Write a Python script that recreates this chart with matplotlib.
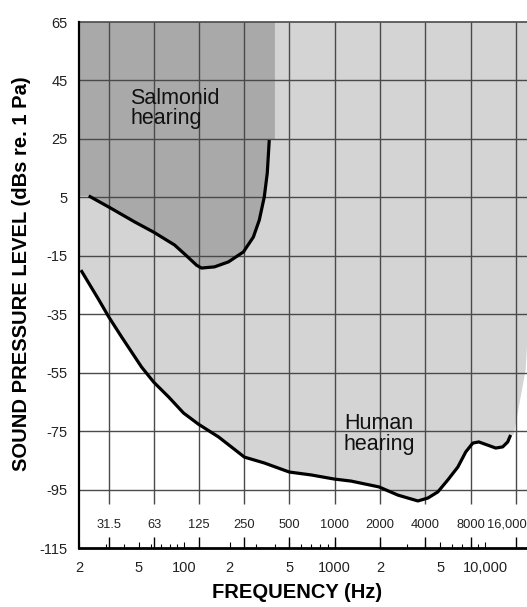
import matplotlib
matplotlib.use("Agg")
import matplotlib.pyplot as plt
from matplotlib.ticker import FixedLocator, FixedFormatter, LogLocator, NullFormatter

plt.rcParams['font.family'] = ['Liberation Sans', 'DejaVu Sans']

# ---- data ----
human_freq = [20.6, 27.1, 31.5, 38.4, 52.1, 62.6, 78.7, 98.9, 124, 169, 251, 340, 498, 697,
              990, 1282, 1966, 2626, 3202, 3564, 4152, 4834, 5632, 6562, 7414, 8249, 9038,
              10370, 11716, 13032, 14070, 14720]
human_db = [-19.9, -30.1, -35.9, -42.8, -53.1, -58.2, -63.3, -68.8, -72.6, -77.0, -83.9, -85.9,
            -89.0, -90.0, -91.4, -92.1, -94.1, -96.9, -98.2, -98.9, -97.9, -95.8, -91.7, -87.3,
            -82.1, -79.1, -78.7, -79.8, -80.8, -80.4, -78.7, -76.3]

salmon_freq = [23.2, 31.5, 46.8, 62.6, 86.2, 102, 120.6, 130, 158.7, 196.5, 247, 287.7, 315,
               340, 356, 367]
salmon_db = [5.5, 1.7, -3.4, -6.9, -11.3, -14.7, -18.2, -19.2, -18.8, -17.1, -13.7, -8.6, -2.8,
             5.1, 13.3, 24.6]

# right edge of the human-hearing shaded area
human_edge_freq = [15420, 18500]
human_edge_db = [-76.3, -54.1]
# right edge of the salmonid shaded area
salmon_edge_freq = 400

octave_freq = [31.5, 63, 125, 250, 500, 1000, 2000, 4000, 8000, 16000]
octave_labels = ["31.5", "63", "125", "250", "500", "1000", "2000", "4000", "8000", "16,000"]

xtick_vals = [20, 50, 100, 200, 500, 1000, 2000, 5000, 10000]
xtick_labels = ["2", "5", "100", "2", "5", "1000", "2", "5", "10,000"]
ytick_vals = [65, 45, 25, 5, -15, -35, -55, -75, -95, -115]

XMIN, XMAX = 20, 18900
YMIN, YMAX = -115, 65

# ---- figure ----
fig = plt.figure(figsize=(5.27, 6.07), dpi=100)
ax = fig.add_axes([79 / 527, 1 - 548 / 607, 1 - 79 / 527, (548 - 22) / 607])
ax.set_xscale('log')
ax.set_xlim(XMIN, XMAX)
ax.set_ylim(YMIN, YMAX)

light = '#d4d4d4'
dark = '#a9a9a9'
gridc = '#4a4a4a'

# human hearing region (above the human threshold curve)
hx = [XMIN] + human_freq + human_edge_freq + [XMAX, XMAX, XMIN]
hy = [human_db[0]] + human_db + human_edge_db + [human_edge_db[-1] + 8, YMAX, YMAX]
ax.fill(hx, hy, color=light, lw=0, zorder=1)

# salmonid hearing region (above the salmonid curve)
sx = [XMIN] + salmon_freq + [salmon_edge_freq, salmon_edge_freq, XMIN]
sy = [salmon_db[0]] + salmon_db + [25, YMAX, YMAX]
ax.fill(sx, sy, color=dark, lw=0, zorder=2)

# grid
ax.hlines(ytick_vals[1:-1], XMIN, XMAX, color=gridc, lw=1.0, zorder=3)
ax.vlines(octave_freq, -100, YMAX, color=gridc, lw=1.0, zorder=3)
# octave-band ticks above the axis
ax.vlines(octave_freq, YMIN, -111.3, color='black', lw=1.0, zorder=3)
for f, lab in zip(octave_freq[:-1], octave_labels[:-1]):
    ax.text(f, -107, lab, ha='center', va='center', fontsize=9.3, color='#222222', zorder=4)
# last octave label sits against the right edge
ax.text(1.0, -107, octave_labels[-1], ha='right', va='center', fontsize=9.3,
        color='#222222', zorder=4, transform=ax.get_yaxis_transform())

# curves
ax.plot(human_freq, human_db, color='black', lw=2.3, solid_capstyle='butt',
        solid_joinstyle='round', zorder=5)
ax.plot(salmon_freq, salmon_db, color='black', lw=2.3, solid_capstyle='butt',
        solid_joinstyle='round', zorder=5)

# annotations
ax.text(44, 35.3, "Salmonid\nhearing", ha='left', va='center', fontsize=15.5,
        linespacing=0.95, color='#111111', zorder=6)
ax.text(1150, -76.0, "Human\nhearing", ha='left', va='center', fontsize=15.5,
        linespacing=0.95, color='#111111', zorder=6)

# axes styling
ax.spines['right'].set_visible(False)
ax.spines['top'].set_color(gridc)
ax.spines['top'].set_linewidth(1.2)
ax.spines['left'].set_linewidth(1.6)
ax.spines['bottom'].set_linewidth(2.0)
ax.spines['left'].set_zorder(7)
ax.spines['bottom'].set_zorder(7)

ax.set_yticks(ytick_vals)
ax.set_yticklabels([str(v) for v in ytick_vals])
ax.tick_params(axis='y', length=0, pad=8, labelsize=10.5, labelcolor='#222222')

ax.xaxis.set_major_locator(FixedLocator(xtick_vals))
ax.xaxis.set_major_formatter(FixedFormatter(xtick_labels))
ax.xaxis.set_minor_locator(LogLocator(base=10, subs=[3, 4, 6, 7, 8, 9]))
ax.xaxis.set_minor_formatter(NullFormatter())
ax.tick_params(axis='x', which='major', direction='in', length=4, width=0.8, pad=9,
               labelsize=10.5, labelcolor='#222222')
ax.tick_params(axis='x', which='minor', direction='in', length=3, width=0.8)

ax.set_xlabel("FREQUENCY (Hz)", fontsize=14.5, fontweight='bold', va='center')
ax.set_ylabel("SOUND PRESSURE LEVEL (dBs re. 1 Pa)", fontsize=14.5, fontweight='bold',
              va='center')
ax.xaxis.set_label_coords((297 - 79) / 448, -(592 - 548) / 526)
ax.yaxis.set_label_coords((22 - 79) / 448, (548 - 274) / 526)

fig.savefig("out.png", dpi=100)
